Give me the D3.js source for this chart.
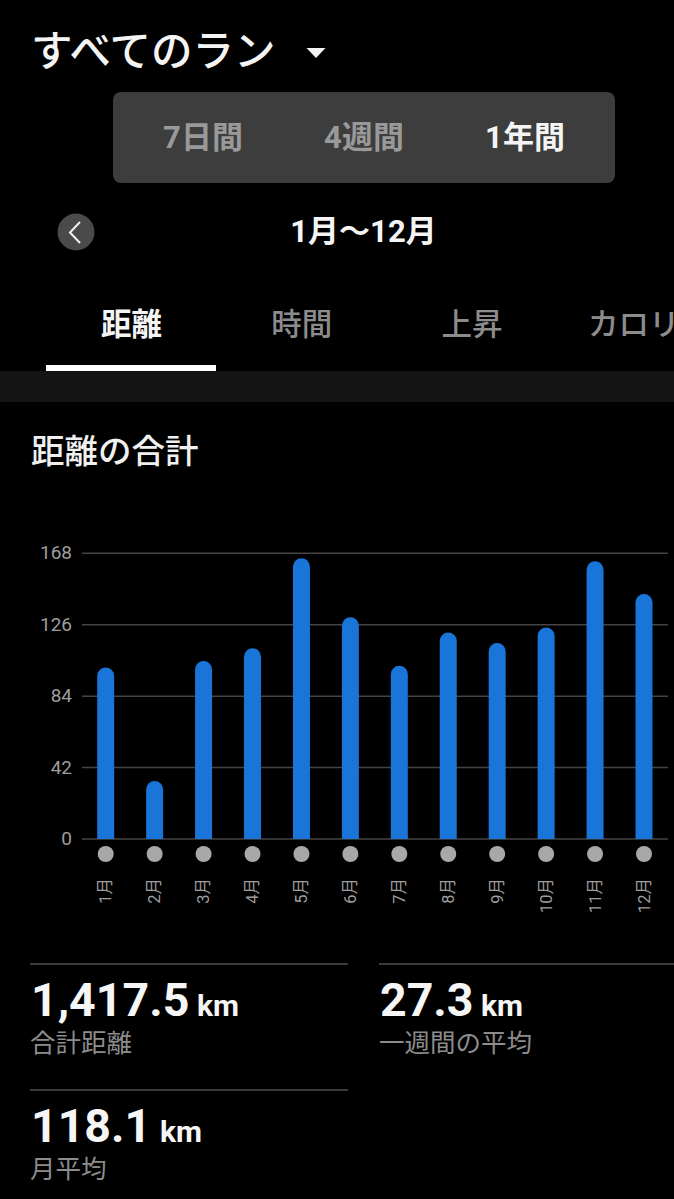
<!DOCTYPE html>
<html lang="ja">
<head>
<meta charset="utf-8">
<style>
  html, body { margin: 0; padding: 0; background: #000; overflow: hidden; }
  svg { display: block; font-family: Roboto, "Noto Sans CJK JP", sans-serif; }
</style>
<script src="https://cdn.jsdelivr.net/npm/d3@7"></script>
</head>
<body>
<svg id="chart" width="674" height="1199"></svg>
<script>
const months = ["1月", "2月", "3月", "4月", "5月", "6月", "7月", "8月", "9月", "10月", "11月", "12月"];
const distances = [100.8, 34.1, 104.7, 112.2, 165.1, 130.4, 101.9, 121.4, 115.3, 124.3, 163.3, 144.1];
const yTicks = [0, 42, 84, 126, 168];
const periods = ["7日間", "4週間", "1年間"];
const tabs = ["距離", "時間", "上昇", "カロリ"];

const svg = d3.select("#chart");

function label(x, y, str, size, weight, fill, anchor) {
  return svg.append("text")
    .attr("x", x)
    .attr("y", y)
    .attr("font-size", size)
    .attr("font-weight", weight)
    .attr("fill", fill)
    .attr("text-anchor", anchor || "start")
    .text(str);
}

// header
label(31, 66, "すべてのラン", 41.5, 500, "#f4f4f4");
svg.append("path").attr("d", "M306.5,48L325.5,48L316,58Z").attr("fill", "#f4f4f4");

svg.append("rect")
  .attr("x", 113).attr("y", 92)
  .attr("width", 502).attr("height", 91)
  .attr("rx", 8)
  .attr("fill", "#3d3d3d");

const periodX = d3.scalePoint().domain(periods).range([203, 525]);
periods.forEach((p, i) => {
  label(periodX(p), 148, p, 31, 700, i === 2 ? "#f4f4f4" : "#999999", "middle");
});

svg.append("circle").attr("cx", 76).attr("cy", 232).attr("r", 18.5).attr("fill", "#4a4a4a");
svg.append("path")
  .attr("d", "M80,222L70,232.5L80,243")
  .attr("fill", "none")
  .attr("stroke", "#f0f0f0")
  .attr("stroke-width", 2);
label(363.5, 242, "1月～12月", 31, 700, "#f4f4f4", "middle");

// tabs
const tabX = d3.scalePoint().domain(tabs.slice(0, 3)).range([131.5, 472]);
tabs.forEach((t, i) => {
  if (i < 3) label(tabX(t), 335, t, 30.5, i === 0 ? 700 : 500, i === 0 ? "#f4f4f4" : "#8c8c8c", "middle");
  else label(588, 335, t, 30.5, 500, "#8c8c8c");
});
svg.append("rect").attr("x", 0).attr("y", 371).attr("width", 674).attr("height", 31).attr("fill", "#141414");
svg.append("rect").attr("x", 46).attr("y", 365).attr("width", 170).attr("height", 6).attr("fill", "#ffffff");

label(31, 463, "距離の合計", 33.5, 500, "#f0f0f0");

// chart
const x = d3.scalePoint().domain(months).range([105.7, 644]);
const y = d3.scaleLinear().domain([0, 168]).range([839, 553.3]);

svg.append("g")
  .attr("transform", "translate(82,0)")
  .call(d3.axisLeft(y).tickValues(yTicks).tickSize(-586).tickPadding(10).offset(0))
  .call(g => g.select(".domain").remove())
  .call(g => g.selectAll("line").attr("stroke", "#444444").attr("stroke-width", 1.5))
  .call(g => g.selectAll("text")
    .attr("fill", "#9e9e9e")
    .attr("font-size", 19)
    .attr("font-family", "Roboto"));

// bars have a round cap on top and a flat foot
const barW = 17;
svg.append("g")
  .selectAll("path")
  .data(distances)
  .enter()
  .append("path")
  .attr("fill", "#1a75d8")
  .attr("d", (d, i) => {
    const cx = x(months[i]);
    const r = barW / 2;
    return `M${cx - r},${y(0)}V${y(d) + r}A${r},${r} 0 0 1 ${cx + r},${y(d) + r}V${y(0)}Z`;
  });

const xAxis = svg.append("g")
  .attr("transform", "translate(0,839)")
  .call(d3.axisBottom(x).tickSize(0).offset(0))
  .call(g => g.select(".domain").remove());

xAxis.selectAll(".tick text")
  .attr("transform", "rotate(-90)")
  .attr("x", -39)
  .attr("y", 0)
  .attr("dy", "0.35em")
  .attr("text-anchor", "end")
  .attr("fill", "#9e9e9e")
  .attr("font-size", 16.5)
  .attr("font-family", "Roboto, 'Noto Sans CJK JP', sans-serif");

xAxis.selectAll(".tick")
  .append("circle")
  .attr("cy", 15)
  .attr("r", 8)
  .attr("fill", "#a8a8a8");

// stats
function stat(lineX1, lineX2, lineY, value, unitX, caption) {
  svg.append("line")
    .attr("x1", lineX1).attr("x2", lineX2)
    .attr("y1", lineY).attr("y2", lineY)
    .attr("stroke", "#3a3a3a")
    .attr("stroke-width", 2);
  label(lineX1 + 1, lineY + 52, value, 46.5, 700, "#f6f6f6");
  label(unitX, lineY + 52, "km", 30, 700, "#f6f6f6");
  label(lineX1, lineY + 88, caption, 25.5, 400, "#8c8c8c");
}

stat(30, 348, 964, "1,417.5", 197, "合計距離");
stat(379, 674, 964, "27.3", 481, "一週間の平均");
stat(30, 348, 1090, "118.1", 160, "月平均");
</script>
</body>
</html>
